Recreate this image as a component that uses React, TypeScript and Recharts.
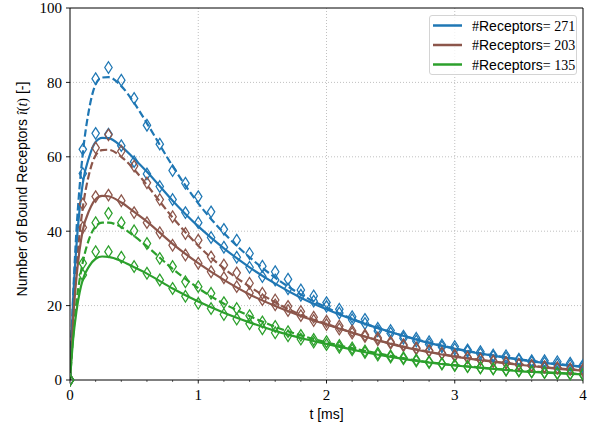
import React from 'react';
import {
  ComposedChart, Line, Scatter, XAxis, YAxis, CartesianGrid, Legend, ReferenceLine,
} from 'recharts';

const BLUE = '#1f77b4';
const BROWN = '#8c564b';
const GREEN = '#2ca02c';

// time grid of the model curves [ms]
const T_LINE = [0, 0.025, 0.05, 0.075, 0.1, 0.15, 0.2, 0.25, 0.3, 0.4, 0.5, 0.6, 0.8, 1.0, 1.2, 1.4, 1.6, 1.8, 2.0, 2.25, 2.5, 2.75, 3.0, 3.25, 3.5, 3.75, 4.0];

// solid model curves
const BLUE_SOLID = [0, 22, 36, 46, 53, 60, 64, 65.1, 65, 62.8, 59.5, 56, 48.2, 41.3, 35.4, 30.3, 25.9, 22.1, 19.0, 15.7, 12.9, 10.4, 8.4, 6.8, 5.5, 4.4, 3.5];
const BROWN_SOLID = [0, 16.7, 27.4, 35, 40.3, 45.6, 48.6, 49.5, 49.4, 47.7, 45.2, 42.6, 36.6, 31.4, 26.9, 23, 19.9, 17.2, 14.9, 12.2, 9.7, 7.8, 6.3, 5.1, 4.1, 3.2, 2.5];
const GREEN_SOLID = [0, 11.2, 18.4, 23.5, 27, 30.6, 32.6, 33.2, 33.1, 32, 30.3, 28.6, 24.6, 21.1, 18.1, 15.5, 13.2, 11.3, 9.7, 7.8, 6.2, 4.9, 3.9, 3.1, 2.4, 1.9, 1.5];

// dashed model curves
const BLUE_DASHED = [0, 23, 40, 52, 61, 73, 79.5, 81.3, 81.4, 79, 74.5, 69, 57.5, 47.5, 39.5, 33, 27.5, 23, 19.5, 15.8, 12.9, 10.5, 8.5, 6.9, 5.6, 4.5, 3.6];
const BROWN_DASHED = [0, 17.5, 30.4, 39.5, 46.4, 55.5, 60.4, 61.8, 61.9, 60, 56.6, 52.4, 43.7, 36.1, 30, 25.1, 20.9, 17.5, 15.1, 12.2, 9.8, 7.9, 6.4, 5.2, 4.2, 3.3, 2.6];
const GREEN_DASHED = [0, 12, 20.8, 27, 31.7, 38, 41.3, 42.3, 42.3, 41.1, 38.7, 35.9, 29.9, 24.7, 20.5, 17.2, 14.3, 12, 10.1, 8.2, 6.5, 5.0, 4.0, 3.2, 2.5, 2.0, 1.6];

// simulation samples
const T_MARK = [0, 0.1, 0.2, 0.3, 0.4, 0.5, 0.6, 0.7, 0.8, 0.9, 1.0, 1.1, 1.2, 1.3, 1.4, 1.5, 1.6, 1.7, 1.8, 1.9, 2.0, 2.1, 2.2, 2.3, 2.4, 2.5, 2.6, 2.7, 2.8, 2.9, 3.0, 3.1, 3.2, 3.3, 3.4, 3.5, 3.6, 3.7, 3.8, 3.9, 4.0];

const BLUE_SIM_A = [0, 62, 81, 84, 80.6, 75.7, 68.5, 63.4, 56.3, 52.9, 49.3, 45.2, 40.5, 37.6, 34, 30.6, 29.1, 27.1, 24.2, 22.6, 20.8, 19, 17, 16.3, 13.9, 13.3, 11.8, 11.2, 10.3, 9.4, 9, 8.1, 7.6, 6.7, 6.5, 5.6, 5.2, 5.2, 4.9, 4.5, 4.0];
const BLUE_SIM_B = [0, 55.5, 66.3, 66.1, 63, 58.7, 55.4, 52, 48.5, 45, 42.3, 38.3, 35.7, 33, 30.3, 27.8, 26.9, 24.5, 22.8, 21.2, 19.8, 18, 16.2, 15.2, 13.2, 12.6, 11.2, 10.5, 9.6, 8.9, 8.3, 7.7, 7.0, 6.3, 5.9, 5.3, 4.8, 4.6, 4.2, 3.9, 3.5];
const BROWN_SIM_A = [0, 47.3, 62.4, 65.9, 61.5, 57.5, 53, 48.5, 43.9, 39.4, 37.6, 33.1, 30.9, 28.8, 26, 23.3, 21.5, 19.8, 18.4, 16.9, 15.8, 14.5, 13.2, 12.1, 11.3, 10.2, 9.5, 8.6, 7.9, 7.2, 6.7, 6.1, 5.6, 5.1, 4.7, 4.2, 3.9, 3.6, 3.3, 3.0, 2.8];
const BROWN_SIM_B = [0, 41, 49.3, 49.7, 48.2, 45, 42.3, 39.6, 36.2, 33.6, 31.4, 29.1, 27.5, 25.1, 23.4, 21.6, 20.2, 18.7, 17.3, 16.0, 14.9, 13.7, 12.6, 11.7, 10.8, 9.9, 9.2, 8.4, 7.8, 7.1, 6.5, 6.0, 5.5, 5.0, 4.6, 4.2, 3.8, 3.5, 3.2, 2.9, 2.6];
const GREEN_SIM_A = [0, 31.4, 42.3, 44.8, 42.3, 40.1, 36.7, 32.7, 30.5, 26.4, 25.1, 23.3, 20.8, 19.2, 17.3, 15.6, 14.4, 13.0, 12.0, 10.9, 10.3, 9.3, 8.6, 7.8, 7.2, 6.5, 6.0, 5.4, 4.9, 4.4, 4.0, 3.6, 3.3, 3.0, 2.7, 2.5, 2.2, 2.0, 1.8, 1.7, 1.5];
const GREEN_SIM_B = [0, 28.2, 34.5, 34.5, 33, 30.5, 28.7, 26.9, 24.6, 22.5, 20.6, 19.2, 17.6, 16.4, 15.1, 13.8, 12.7, 11.9, 11.0, 10.2, 9.5, 8.8, 8.1, 7.4, 6.7, 6.2, 5.7, 5.1, 4.7, 4.3, 3.9, 3.6, 3.3, 3.0, 2.7, 2.5, 2.2, 2.0, 1.8, 1.7, 1.5];

const X_TICKS = [0, 0.2, 0.4, 0.6, 0.8, 1, 1.2, 1.4, 1.6, 1.8, 2, 2.2, 2.4, 2.6, 2.8, 3, 3.2, 3.4, 3.6, 3.8, 4];
const Y_TICKS = [0, 20, 40, 60, 80, 100];

const LEGEND_LABELS = ['271', '203', '135'];
const LEGEND_COLORS = [BLUE, BROWN, GREEN];

const SERIF = '"Liberation Serif", serif';
const SANS = '"Liberation Sans", sans-serif';

const pts = (ts: number[], vs: number[]) => ts.map((t, i) => ({ t, v: vs[i] }));

const diamond = (color: string) => (props: any) => {
  const { cx, cy } = props;
  if (cx == null || cy == null) return <g />;
  return (
    <path
      d={`M${cx},${cy - 5.8}L${cx + 3.7},${cy}L${cx},${cy + 5.8}L${cx - 3.7},${cy}Z`}
      fill="none"
      stroke={color}
      strokeWidth={1.25}
    />
  );
};

const XTick = (props: any) => {
  const { x, y, payload } = props;
  const major = Number.isInteger(payload.value);
  return (
    <g>
      <line x1={x} x2={x} y1={y} y2={y + (major ? 3.5 : 2)} stroke="#000" strokeWidth={major ? 0.9 : 0.6} />
      {major && (
        <text x={x} y={y + 20} textAnchor="middle" fontFamily={SERIF} fontSize={15} fill="#000">
          {payload.value}
        </text>
      )}
    </g>
  );
};

const YLabel = () => (
  <text
    transform="translate(27,189) rotate(-90)"
    textAnchor="middle"
    fontFamily={SANS}
    fontSize={14}
    fill="#000"
  >
    Number of Bound Receptors{' '}
    <tspan fontFamily={SERIF} fontStyle="italic">î</tspan>
    <tspan fontFamily={SERIF}>(</tspan>
    <tspan fontFamily={SERIF} fontStyle="italic">t</tspan>
    <tspan fontFamily={SERIF}>)</tspan> [-]
  </text>
);

const XLabel = () => (
  <text x={326.5} y={419} textAnchor="middle" fontFamily={SANS} fontSize={14} fill="#000">
    t [ms]
  </text>
);

const LegendBox = () => (
  <div
    style={{
      width: 148, height: 60, boxSizing: 'border-box', border: '1px solid #d4d4d4',
      borderRadius: 3, background: 'rgba(255,255,255,0.8)',
    }}
  >
    <svg width={146} height={58}>
      {LEGEND_LABELS.map((lab, i) => (
        <g key={lab} transform={`translate(0,${9.5 + i * 19.5})`}>
          <line x1={3} x2={32} y1={0} y2={0} stroke={LEGEND_COLORS[i]} strokeWidth={2.5} />
          <text x={42} y={5} fontSize={14} fill="#000">
            <tspan fontFamily={SERIF}>#</tspan>
            <tspan fontFamily={SANS}>Receptors</tspan>
            <tspan fontFamily={SERIF}>= {lab}</tspan>
          </text>
        </g>
      ))}
    </svg>
  </div>
);

export default function App() {
  const solid = [
    { data: BLUE_SOLID, color: BLUE },
    { data: BROWN_SOLID, color: BROWN },
    { data: GREEN_SOLID, color: GREEN },
  ];
  const dashed = [
    { data: BLUE_DASHED, color: BLUE },
    { data: BROWN_DASHED, color: BROWN },
    { data: GREEN_DASHED, color: GREEN },
  ];
  const sims = [
    { data: BLUE_SIM_A, color: BLUE },
    { data: BLUE_SIM_B, color: BLUE },
    { data: BROWN_SIM_A, color: BROWN },
    { data: BROWN_SIM_B, color: BROWN },
    { data: GREEN_SIM_A, color: GREEN },
    { data: GREEN_SIM_B, color: GREEN },
  ];

  return (
    <div style={{ position: 'absolute', left: 0, top: 0, width: 595, height: 426, background: '#fff' }}>
      <ComposedChart width={595} height={426} margin={{ top: 8, right: 12, bottom: 16, left: 0 }}>
        <CartesianGrid
          stroke="#b0b0b0"
          strokeDasharray="1 2"
          strokeWidth={0.8}
          verticalValues={[1, 2, 3]}
          horizontalValues={[20, 40, 60, 80]}
        />
        <XAxis
          dataKey="t"
          type="number"
          domain={[0, 4]}
          ticks={X_TICKS}
          interval={0}
          allowDataOverflow
          height={30}
          tickSize={0}
          tickMargin={0}
          tickLine={false}
          tick={<XTick />}
          axisLine={{ stroke: '#000', strokeWidth: 1 }}
          label={{ content: <XLabel /> }}
        />
        <YAxis
          dataKey="v"
          type="number"
          domain={[0, 100]}
          ticks={Y_TICKS}
          interval={0}
          width={70}
          tickSize={4}
          tickMargin={4}
          tickLine={{ stroke: '#000', strokeWidth: 0.9 }}
          axisLine={{ stroke: '#000', strokeWidth: 1 }}
          tick={{ fontFamily: SERIF, fontSize: 15, fill: '#000' }}
          label={{ content: <YLabel /> }}
        />
        <ReferenceLine y={100} stroke="#000" strokeWidth={1} />
        <ReferenceLine x={4} stroke="#000" strokeWidth={1} />
        {sims.map((s, i) => (
          <Scatter
            key={`sim-${i}`}
            data={pts(T_MARK, s.data)}
            dataKey="v"
            shape={diamond(s.color)}
            isAnimationActive={false}
          />
        ))}
        {dashed.map((s, i) => (
          <Line
            key={`dash-${i}`}
            data={pts(T_LINE, s.data)}
            dataKey="v"
            type="monotone"
            stroke={s.color}
            strokeWidth={2.2}
            strokeDasharray="7.4 3.2"
            dot={false}
            activeDot={false}
            isAnimationActive={false}
          />
        ))}
        {solid.map((s, i) => (
          <Line
            key={`solid-${i}`}
            data={pts(T_LINE, s.data)}
            dataKey="v"
            type="monotone"
            stroke={s.color}
            strokeWidth={2.2}
            dot={false}
            activeDot={false}
            isAnimationActive={false}
          />
        ))}
        <Legend
          layout="vertical"
          align="center"
          verticalAlign="middle"
          width={148}
          wrapperStyle={{ left: 429, top: 15, width: 148 }}
          content={<LegendBox />}
        />
      </ComposedChart>
    </div>
  );
}
